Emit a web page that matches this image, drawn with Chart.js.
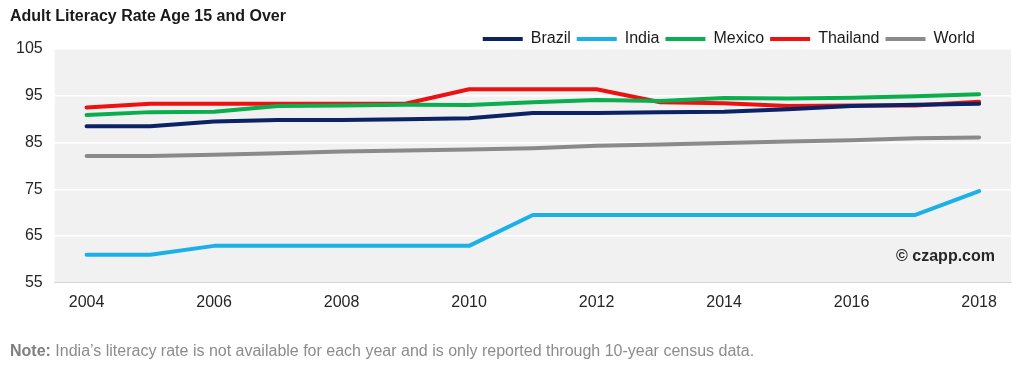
<!DOCTYPE html>
<html>
<head>
<meta charset="utf-8">
<script src="https://cdn.jsdelivr.net/npm/chart.js@4.4.1/dist/chart.umd.min.js"></script>
<style>
  body { margin:0; background:#fff; font-family:"Liberation Sans", Arial, sans-serif; }
  #wrap { position:relative; width:1024px; height:365px; }
  #title { position:absolute; left:10px; top:7px; font-weight:bold; font-size:16px; color:#1a1a1a; }
  #note { position:absolute; left:10px; top:342px; font-size:16px; color:#8c8c8c; }
  #note b { color:#7f7f7f; }
  #copy { position:absolute; right:29px; top:247px; font-weight:bold; font-size:16px; color:#262626; }
</style>
</head>
<body>
<div id="wrap">
  <canvas id="chart" width="1024" height="365"></canvas>
  <div id="title">Adult Literacy Rate Age 15 and Over</div>
  <div id="copy">© czapp.com</div>
  <div id="note"><b>Note:</b> India’s literacy rate is not available for each year and is only reported through 10-year census data.</div>
</div>
<script>
// data
const years = ['2004','2005','2006','2007','2008','2009','2010','2011','2012','2013','2014','2015','2016','2017','2018'];
const brazil   = [88.5, 88.5, 89.5, 89.8, 89.8, 90.0, 90.2, 91.3, 91.3, 91.5, 91.6, 92.1, 92.8, 93.1, 93.3];
const india    = [61.0, 61.0, 62.9, 62.9, 62.9, 62.9, 62.9, 69.5, 69.5, 69.5, 69.5, 69.5, 69.5, 69.5, 74.6];
const mexico   = [90.9, 91.5, 91.6, 92.8, 92.9, 93.1, 93.0, 93.6, 94.1, 93.9, 94.5, 94.4, 94.6, 94.9, 95.3];
const thailand = [92.5, 93.3, 93.3, 93.3, 93.3, 93.3, 96.4, 96.4, 96.4, 93.6, 93.4, 92.8, 92.9, 92.9, 93.7];
const world    = [82.1, 82.1, 82.4, 82.7, 83.1, 83.3, 83.5, 83.8, 84.3, 84.6, 84.9, 85.2, 85.5, 85.9, 86.1];
const yTicks = [55, 65, 75, 85, 95, 105];

const FONT = '"Liberation Sans", Arial, sans-serif';

// plot background + legend nudged left/down
const plotBg = {
    id:'plotBg',
    afterLayout(chart){
        const lg = chart.legend;
        lg.right -= 30;
        lg.top += 8; lg.bottom += 8;
    },
    beforeDraw(chart){
        const {ctx, chartArea:a} = chart;
        ctx.save();
        ctx.fillStyle = '#f1f1f1';
        ctx.fillRect(a.left, a.top, a.right-a.left, a.bottom-a.top);
        ctx.restore();
    }
};

function ds(label, data, color){
    return { label, data, borderColor:color, backgroundColor:color, borderWidth:4,
             pointRadius:0, pointStyle:'line', tension:0, borderCapStyle:'round', borderJoinStyle:'round' };
}

new Chart(document.getElementById('chart'), {
    type:'line',
    data:{
        labels: years,
        datasets:[
            ds('Brazil', brazil, '#0b2265'),
            ds('India', india, '#1cb0e8'),
            ds('Mexico', mexico, '#0aae4e'),
            ds('Thailand', thailand, '#ee1111'),
            ds('World', world, '#8a8a8a')
        ]
    },
    options:{
        responsive:false,
        animation:false,
        layout:{ padding:{ top:17, left:4, right:13, bottom:43 } },
        plugins:{
            legend:{
                position:'top', align:'end',
                labels:{ usePointStyle:true, pointStyleWidth:40, boxHeight:16, padding:6, color:'#1a1a1a',
                         font:{ family:FONT, size:16 } }
            },
            tooltip:{ enabled:false }
        },
        scales:{
            x:{
                offset:true,
                grid:{ display:false, drawTicks:false },
                border:{ display:true, color:'#d6d6d6', width:1 },
                ticks:{
                    autoSkip:false, maxRotation:0, padding:10, color:'#262626',
                    font:{ family:FONT, size:16 },
                    callback(v, i){ return (Number(years[i]) % 2 === 0) ? years[i] : ''; }
                }
            },
            y:{
                min:55, max:105,
                afterBuildTicks(axis){ axis.ticks = yTicks.map(v=>({value:v})); },
                grid:{ color:'#ffffff', lineWidth:1.5, drawTicks:false },
                border:{ display:false },
                ticks:{ padding:12, color:'#262626', font:{ family:FONT, size:16 } }
            }
        }
    },
    plugins:[plotBg]
});
</script>
</body>
</html>
